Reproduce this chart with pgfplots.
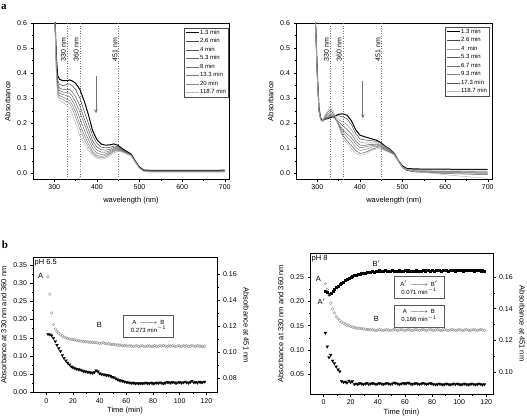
\documentclass[border=0pt]{standalone}
\usepackage{pgfplots}
\pgfplotsset{compat=1.18}
\usepackage{pgfplotstable}
\usepackage{fontspec}
\setmainfont{Liberation Sans}
\newfontfamily\panelfont{Liberation Serif}
\usetikzlibrary{arrows.meta}

% spectra, pH 6.5 (absorbance vs wavelength)
\pgfplotstableread{
wl  c1   c2   c3   c4   c5   c6   c7   c8
298 0.75 0.75 0.75 0.75 0.75 0.75 0.75 0.75
302 0.60 0.59 0.58 0.58 0.57 0.57 0.56 0.56
305 0.46 0.44 0.43 0.42 0.41 0.40 0.39 0.38
308 0.39 0.37 0.36 0.35 0.34 0.33 0.32 0.31
312 0.376 0.356 0.341 0.331 0.320 0.310 0.300 0.291
320 0.370 0.350 0.335 0.325 0.315 0.305 0.295 0.285
330 0.370 0.355 0.335 0.322 0.310 0.295 0.285 0.270
336 0.373 0.357 0.336 0.321 0.307 0.291 0.278 0.261
342 0.369 0.350 0.325 0.309 0.290 0.274 0.259 0.238
350 0.360 0.335 0.305 0.285 0.265 0.245 0.225 0.200
360 0.335 0.300 0.270 0.245 0.220 0.195 0.175 0.150
370 0.290 0.250 0.220 0.200 0.175 0.155 0.138 0.120
380 0.235 0.200 0.175 0.155 0.135 0.118 0.105 0.092
390 0.170 0.150 0.130 0.115 0.100 0.088 0.080 0.072
400 0.135 0.120 0.105 0.093 0.082 0.072 0.066 0.060
410 0.117 0.105 0.095 0.085 0.076 0.068 0.062 0.057
420 0.113 0.102 0.093 0.085 0.078 0.072 0.066 0.060
430 0.114 0.104 0.096 0.090 0.085 0.080 0.076 0.070
440 0.118 0.110 0.104 0.099 0.095 0.091 0.088 0.083
450 0.112 0.107 0.103 0.099 0.096 0.093 0.091 0.088
460 0.098 0.095 0.093 0.091 0.089 0.088 0.087 0.085
470 0.088 0.085 0.084 0.082 0.081 0.080 0.079 0.078
480 0.078 0.076 0.075 0.074 0.073 0.072 0.071 0.070
490 0.050 0.048 0.047 0.046 0.046 0.045 0.045 0.045
500 0.025 0.024 0.023 0.022 0.021 0.021 0.020 0.020
510 0.014 0.013 0.012 0.011 0.010 0.009 0.008 0.008
530 0.012 0.011 0.010 0.009 0.008 0.007 0.006 0.005
600 0.012 0.011 0.010 0.009 0.008 0.007 0.006 0.005
700 0.013 0.012 0.011 0.010 0.009 0.008 0.007 0.005
}\specA

% spectra, pH 8
\pgfplotstableread{
wl  r1   r2   r3   r4   r5   r6   r7   r8
292 0.80 0.80 0.80 0.80 0.80 0.80 0.80 0.80
296 0.60 0.60 0.59 0.59 0.59 0.58 0.58 0.58
300 0.40 0.40 0.39 0.39 0.39 0.38 0.38 0.38
304 0.260 0.255 0.255 0.250 0.250 0.250 0.245 0.245
308 0.220 0.218 0.216 0.215 0.215 0.214 0.213 0.212
312 0.212 0.210 0.209 0.208 0.208 0.208 0.209 0.210
320 0.217 0.218 0.220 0.221 0.224 0.228 0.233 0.240
330 0.222 0.225 0.228 0.232 0.238 0.245 0.255 0.265
340 0.228 0.228 0.225 0.222 0.222 0.225 0.232 0.240
350 0.236 0.230 0.216 0.206 0.200 0.196 0.193 0.188
360 0.238 0.226 0.205 0.190 0.175 0.165 0.152 0.140
370 0.232 0.218 0.195 0.175 0.158 0.145 0.130 0.120
380 0.210 0.195 0.175 0.158 0.142 0.128 0.112 0.100
390 0.175 0.160 0.145 0.130 0.118 0.105 0.092 0.080
400 0.153 0.138 0.125 0.113 0.103 0.092 0.080 0.072
410 0.147 0.134 0.122 0.112 0.105 0.095 0.083 0.075
420 0.142 0.132 0.122 0.115 0.109 0.100 0.090 0.085
430 0.137 0.130 0.122 0.116 0.112 0.106 0.098 0.093
440 0.132 0.128 0.122 0.117 0.113 0.108 0.103 0.098
450 0.122 0.120 0.115 0.111 0.108 0.105 0.101 0.097
460 0.108 0.107 0.104 0.101 0.099 0.096 0.093 0.090
470 0.097 0.096 0.094 0.092 0.090 0.088 0.086 0.082
480 0.082 0.081 0.080 0.079 0.078 0.077 0.076 0.075
490 0.052 0.051 0.050 0.050 0.050 0.050 0.050 0.050
500 0.030 0.028 0.026 0.025 0.024 0.024 0.024 0.025
510 0.020 0.018 0.015 0.014 0.013 0.012 0.012 0.015
530 0.018 0.016 0.012 0.010 0.008 0.007 0.006 0.008
600 0.017 0.015 0.010 0.008 0.005 0.003 0.000 -0.005
700 0.016 0.014 0.008 0.005 0.002 0.000 -0.005 -0.020
}\specB

% kinetics: t, circles pH6.5, triangles pH6.5, circles pH8, squares pH8, triangles pH8
\pgfplotstableread{
t c65 v65 c8 s8 v8
1.3 .318 .160 .236 .221 .135
2.7 .270 .159 .224 .219 .107
4.0 .218 .156 .212 .214 .085
5.3 .186 .149 .196 .216 .090
6.7 .174 .140 .184 .220 .078
8.0 .167 .130 .176 .224 .073
9.3 .162 .121 .169 .228 .066
10.7 .158 .113 .164 .231 .060
12.0 .155 .102 .160 .234 .056
13.3 .152 .094 .157 .237 .036
14.7 .150 .087 .155 .240 .034
16.0 .148 .081 .153 .243 .035
17.3 .147 .076 .151 .245 .033
18.7 .146 .071 .150 .247 .037
20.0 .145 .068 .148 .249 .034
21.3 .144 .066 .147 .251 .036
22.7 .143 .064 .146 .253 .030
24.0 .142 .063 .145 .254 .031
25.3 .141 .062 .145 .255 .030
26.7 .141 .060 .144 .256 .032
28.0 .140 .058 .144 .257 .031
29.3 .139 .057 .143 .258 .030
30.7 .139 .056 .143 .258 .031
32.0 .138 .055 .142 .259 .032
33.3 .138 .054 .142 .259 .030
34.7 .137 .053 .141 .260 .031
36.0 .137 .055 .142 .261 .032
37.3 .136 .060 .141 .260 .031
38.7 .136 .057 .140 .261 .030
40.0 .135 .052 .141 .262 .031
41.3 .135 .050 .142 .263 .032
42.7 .136 .049 .141 .261 .031
44.0 .134 .048 .140 .262 .030
45.3 .133 .047 .141 .263 .031
46.7 .134 .046 .142 .262 .032
48.0 .132 .045 .141 .261 .031
49.3 .131 .042 .140 .262 .030
50.7 .132 .041 .141 .263 .031
52.0 .130 .038 .142 .262 .033
53.3 .131 .035 .141 .261 .032
54.7 .129 .033 .140 .262 .031
56.0 .130 .032 .141 .263 .030
57.3 .128 .031 .142 .262 .031
58.7 .129 .029 .141 .261 .032
60.0 .128 .028 .140 .263 .031
61.3 .127 .027 .141 .262 .032
62.7 .128 .026 .142 .263 .033
64.0 .127 .025 .141 .262 .031
65.3 .126 .026 .140 .261 .030
66.7 .127 .024 .141 .262 .031
68.0 .128 .025 .142 .263 .032
69.3 .126 .024 .141 .262 .031
70.7 .127 .025 .140 .261 .030
72.0 .128 .024 .141 .262 .031
73.3 .126 .025 .142 .263 .032
74.7 .127 .026 .141 .262 .031
76.0 .127 .024 .140 .264 .030
77.3 .128 .025 .141 .263 .031
78.7 .126 .026 .142 .262 .032
80.0 .127 .024 .141 .263 .031
81.3 .128 .025 .140 .262 .030
82.7 .127 .026 .141 .263 .029
84.0 .126 .025 .142 .264 .030
85.3 .128 .027 .141 .263 .031
86.7 .127 .025 .140 .262 .030
88.0 .129 .024 .141 .263 .029
89.3 .127 .026 .142 .264 .030
90.7 .126 .028 .141 .263 .031
92.0 .128 .027 .140 .262 .030
93.3 .127 .026 .141 .263 .029
94.7 .128 .028 .142 .264 .030
96.0 .127 .027 .141 .263 .031
97.3 .126 .025 .140 .262 .030
98.7 .128 .027 .141 .263 .031
100.0 .127 .028 .142 .264 .030
101.3 .126 .026 .141 .263 .029
102.7 .128 .027 .140 .262 .030
104.0 .127 .029 .141 .263 .031
105.3 .128 .027 .142 .264 .030
106.7 .126 .026 .141 .263 .029
108.0 .127 .028 .140 .264 .030
109.3 .128 .031 .141 .263 .031
110.7 .127 .027 .142 .262 .030
112.0 .126 .028 .141 .263 .029
113.3 .128 .026 .140 .264 .030
114.7 .127 .029 .141 .263 .031
116.0 .127 .027 .142 .262 .030
117.3 .126 .028 .141 .263 .029
118.7 .127 .029 .140 .262 .030
}\kin

\pgfplotsset{
  base/.style={
    scale only axis, anchor=south west, tick align=outside,
    /pgf/number format/assume math mode=true,
    tick label style={font=\fontsize{7}{8}\selectfont},
    label style={font=\fontsize{7.5}{9}\selectfont},
    major tick length=2.5pt, minor tick length=1.5pt,
    tick style={black, line width=0.4pt},
    axis line style={line width=0.5pt},
  },
  spec/.style={base, xtick pos=left, ytick pos=left,
    width=196pt, height=156pt,
    xmin=250, xmax=710, ymin=-0.022, ymax=0.6,
    xtick={300,400,500,600,700}, minor x tick num=1,
    ytick={0,0.1,0.2,0.3,0.4,0.5,0.6}, minor y tick num=1,
    yticklabel style={/pgf/number format/fixed, /pgf/number format/fixed zerofill, /pgf/number format/precision=1},
    xlabel={wavelength (nm)}, ylabel={Absorbance},
    legend cell align=left,
    legend image code/.code={\draw[##1] (0pt,0pt) -- (13pt,0pt);},
    legend style={font=\fontsize{6}{7}\selectfont, draw=black!70, line width=0.4pt,
      anchor=north east, inner sep=1pt, row sep=1.3pt,
      nodes={inner sep=0.8pt, text height=4.4pt, text depth=1.2pt}},
  },
  vline/.style={black!55, dotted, line width=0.5pt, forget plot},
  kin/.style={base, xtick pos=left, ytick pos=left,
    xtick={0,20,40,60,80,100,120}, minor x tick num=1, minor y tick num=1,
    yticklabel style={/pgf/number format/fixed, /pgf/number format/fixed zerofill, /pgf/number format/precision=2},
    xlabel={Time (min)}, ylabel={Absorbance at 330 nm and 360 nm},
    xlabel style={yshift=3pt},
  },
  kinR/.style={base, axis y line*=right, axis x line=none, minor y tick num=1,
    yticklabel style={/pgf/number format/fixed, /pgf/number format/fixed zerofill, /pgf/number format/precision=2},
    ylabel={Absorbance at 451 nm}, ylabel style={rotate=180},
  },
  circ/.style={only marks, mark=o, mark size=1.4pt, black!45, mark options={line width=0.35pt}},
  tri/.style={only marks, mark=triangle*, mark size=1.7pt, black, mark options={rotate=180, line width=0.2pt}},
  sq/.style={only marks, mark=square*, mark size=1.0pt, black, mark options={line width=0.2pt}},
}
\tikzset{
  nmlab/.style={font=\fontsize{7}{8}\selectfont, rotate=90, anchor=south east, inner sep=1pt},
  boxnode/.style={draw=black!65, fill=white, line width=0.5pt, font=\fontsize{6}{8}\selectfont, align=center, inner sep=2pt, minimum width=50pt, minimum height=22pt},
  txt/.style={font=\fontsize{7.5}{9}\selectfont, inner sep=0pt},
}

\newcommand{\rarr}{\makebox[18pt]{\rightarrowfill}}

\begin{document}
\begin{tikzpicture}
\useasboundingbox (0,0) rectangle (527pt,416pt);

\node[font=\panelfont\bfseries\fontsize{11}{12}\selectfont, inner sep=0pt] at (4pt,409pt) {a};
\node[font=\panelfont\bfseries\fontsize{11}{12}\selectfont, inner sep=0pt] at (5pt,171pt) {b};

% ---------- a, left ----------
\begin{axis}[spec, at={(33pt,237pt)}, legend style={at={(rel axis cs:0.995,0.968)}}]
\addplot[vline] coordinates {(330,-0.022) (330,0.6)};
\addplot[vline] coordinates {(360,-0.022) (360,0.6)};
\addplot[vline] coordinates {(451,-0.022) (451,0.6)};
\addplot[black, line width=1pt] table[x=wl,y=c1]{\specA}; \addlegendentry{1.3 min}
\addplot[black!72, line width=0.5pt] table[x=wl,y=c2]{\specA}; \addlegendentry{2.6 min}
\addplot[black!66, line width=0.5pt] table[x=wl,y=c3]{\specA}; \addlegendentry{4 min}
\addplot[black!60, line width=0.5pt] table[x=wl,y=c4]{\specA}; \addlegendentry{5.3 min}
\addplot[black!56, line width=0.5pt] table[x=wl,y=c5]{\specA}; \addlegendentry{8 min}
\addplot[black!52, line width=0.5pt] table[x=wl,y=c6]{\specA}; \addlegendentry{13.3 min}
\addplot[black!46, line width=0.5pt] table[x=wl,y=c7]{\specA}; \addlegendentry{20 min}
\addplot[black!28, line width=0.5pt] table[x=wl,y=c8]{\specA}; \addlegendentry{118.7 min}
\node[nmlab] at (axis cs:330,0.545) {330 nm};
\node[nmlab] at (axis cs:360,0.545) {360 nm};
\node[nmlab] at (axis cs:451,0.545) {451 nm};
\draw[-{Stealth[length=4pt,width=3.5pt]}, black!55, line width=0.9pt] (axis cs:398,0.388) -- (axis cs:398,0.24);
\end{axis}

% ---------- a, right ----------
\begin{axis}[spec, at={(296pt,237pt)}, legend style={at={(rel axis cs:0.985,0.974)}}]
\addplot[vline] coordinates {(330,-0.022) (330,0.6)};
\addplot[vline] coordinates {(360,-0.022) (360,0.6)};
\addplot[vline] coordinates {(451,-0.022) (451,0.6)};
\addplot[black, line width=1pt] table[x=wl,y=r1]{\specB}; \addlegendentry{1.3 min}
\addplot[black!72, line width=0.5pt] table[x=wl,y=r2]{\specB}; \addlegendentry{2.6 min}
\addplot[black!40, line width=0.5pt] table[x=wl,y=r3]{\specB}; \addlegendentry{4\ \ min}
\addplot[black!62, line width=0.5pt] table[x=wl,y=r4]{\specB}; \addlegendentry{5.3 min}
\addplot[black!56, line width=0.5pt] table[x=wl,y=r5]{\specB}; \addlegendentry{6.7 min}
\addplot[black!50, line width=0.5pt] table[x=wl,y=r6]{\specB}; \addlegendentry{9.3 min}
\addplot[black!66, line width=0.5pt] table[x=wl,y=r7]{\specB}; \addlegendentry{17.3 min}
\addplot[black!28, line width=0.5pt] table[x=wl,y=r8]{\specB}; \addlegendentry{118.7 min}
\node[nmlab] at (axis cs:330,0.545) {330 nm};
\node[nmlab] at (axis cs:360,0.545) {360 nm};
\node[nmlab] at (axis cs:451,0.545) {451 nm};
\draw[-{Stealth[length=4pt,width=3.5pt]}, black!55, line width=0.9pt] (axis cs:407,0.368) -- (axis cs:407,0.22);
\end{axis}

% ---------- b, left (pH 6.5) ----------
\begin{axis}[kin, at={(33pt,23.7pt)}, width=184pt, height=134.6pt,
  xmin=-10, xmax=128, ymin=0, ymax=0.37,
  ytick={0,0.05,0.10,0.15,0.20,0.25,0.30,0.35}]
\addplot[circ] table[x=t,y=c65]{\kin};
\addplot[tri] table[x=t,y=v65]{\kin};
\node[txt, anchor=north west] at ([xshift=1.5pt,yshift=-1.5pt]rel axis cs:0,1) {pH 6.5};
\node[txt] at (axis cs:-4.2,0.320) {A};
\node[txt] at (axis cs:39.7,0.186) {B};
\node[boxnode] at (axis cs:76.5,0.181) {A\hspace{3pt}\rarr\hspace{3pt}B\\0.273 min\textsuperscript{$-$1}};
\end{axis}
\begin{axis}[kinR, at={(33pt,23.7pt)}, width=184pt, height=134.6pt,
  xmin=-10, xmax=128, ymin=0.069, ymax=0.1725,
  ytick={0.08,0.10,0.12,0.14,0.16}]
\end{axis}

% ---------- b, right (pH 8) ----------
\begin{axis}[kin, at={(310pt,22pt)}, width=183pt, height=140.7pt,
  xmin=-10, xmax=125, ymin=0.01, ymax=0.298,
  ytick={0.05,0.10,0.15,0.20,0.25}]
\addplot[sq] table[x=t,y=s8]{\kin};
\addplot[circ] table[x=t,y=c8]{\kin};
\addplot[tri] table[x=t,y=v8]{\kin};
\node[txt, anchor=north west] at ([xshift=1.5pt,yshift=-1.5pt]rel axis cs:0,1) {pH 8};
\node[txt] at (axis cs:-3.9,0.245) {A};
\node[txt] at (axis cs:-1.5,0.200) {A$'$};
\node[txt] at (axis cs:39,0.277) {B$'$};
\node[txt] at (axis cs:39,0.163) {B};
\node[boxnode] at (axis cs:70.4,0.228) {A$'$\hspace{3pt}\rarr\hspace{3pt}B$'$\\0.071 min\textsuperscript{$-$1}};
\node[boxnode] at (axis cs:70.4,0.170) {A\hspace{3pt}\rarr\hspace{3pt}B\\0.166 min\textsuperscript{$-$1}};
\end{axis}
\begin{axis}[kinR, at={(310pt,22pt)}, width=183pt, height=140.7pt,
  xmin=-10, xmax=125, ymin=0.086, ymax=0.175,
  ytick={0.10,0.12,0.14,0.16}]
\end{axis}

\end{tikzpicture}
\end{document}
